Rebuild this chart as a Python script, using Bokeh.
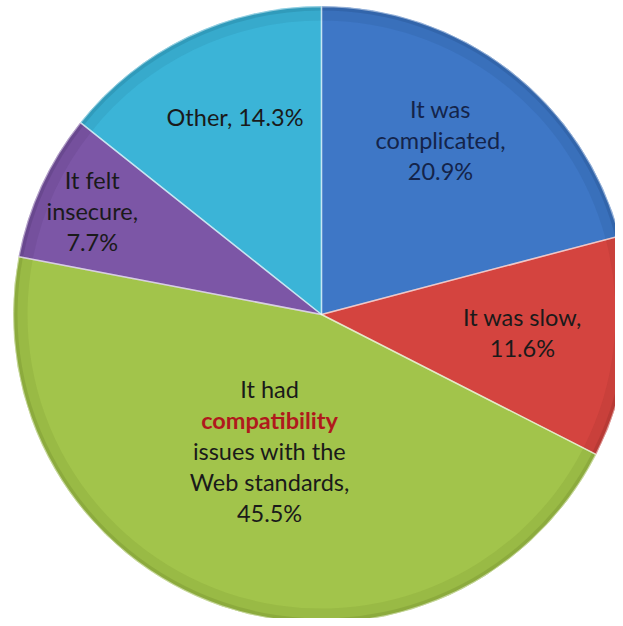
import math
from bokeh.plotting import figure
from bokeh.models import Range1d, ColumnDataSource
from bokeh.core.properties import value
from bokeh.embed import file_html
from bokeh.resources import INLINE

# ---- data ----
categories = ["It was complicated", "It was slow", "It had compatibility issues with the Web standards",
              "It felt insecure", "Other"]
percents = [20.9, 11.6, 45.5, 7.7, 14.3]
label_lines = [
    ["It was", "complicated,", "20.9%"],
    ["It was slow,", "11.6%"],
    ["It had", "compatibility", "issues with the", "Web standards,", "45.5%"],
    ["It felt", "insecure,", "7.7%"],
    ["Other, 14.3%"],
]
colors = ["#3e77c6", "#d4443f", "#a2c44b", "#7c56a6", "#3bb4d7"]
rim_colors = ["#2c5a9c", "#a83330", "#7f9c35", "#5e3f82", "#2a8caa"]
# label placement: radial fraction and angular nudge (degrees) from the slice's mid angle
label_frac = [0.687, 0.655, 0.473, 0.817, 0.70]
label_nudge = [3.4, 1.0, -2.0, 0.3, -2.1]
emph_line = (2, 1)  # (slice, line) drawn bold red

# ---- geometry ----
W, H = 615, 618
cx, cy = 321, -314
R = 308
total = sum(percents)
starts, ends, mids = [], [], []
cum = 0.0
for v in percents:
    a0 = math.pi / 2 - 2 * math.pi * (cum + v) / total
    a1 = math.pi / 2 - 2 * math.pi * cum / total
    starts.append(a0)
    ends.append(a1)
    mids.append((a0 + a1) / 2)
    cum += v

p = figure(width=W, height=H, output_backend="svg", toolbar_location=None,
           x_range=Range1d(0, W), y_range=Range1d(-H, 0),
           min_border=0, outline_line_color=None)
p.axis.visible = False
p.grid.visible = False
p.background_fill_color = "white"
p.border_fill_color = "white"

src = ColumnDataSource(dict(x=[cx] * 5, y=[cy] * 5, s=starts, e=ends, c=colors, rc=rim_colors, cat=categories))
p.wedge(x="x", y="y", radius=R, start_angle="s", end_angle="e", fill_color="c",
        line_color="c", line_width=1, source=src)
# darker rim to hint at the bevel shading
p.annular_wedge(x="x", y="y", inner_radius=R - 14, outer_radius=R, start_angle="s", end_angle="e",
                fill_color="rc", fill_alpha=0.25, line_color=None, source=src)
p.annular_wedge(x="x", y="y", inner_radius=R - 4, outer_radius=R, start_angle="s", end_angle="e",
                fill_color="rc", fill_alpha=0.5, line_color=None, source=src)
# light separators
p.wedge(x="x", y="y", radius=R, start_angle="s", end_angle="e", fill_color=None,
        line_color="white", line_alpha=0.45, line_width=1.5, source=src)

# ---- labels ----
line_h = 31
tx, ty, tt, tc, tw = [], [], [], [], []
for i, lines in enumerate(label_lines):
    ang = mids[i] + math.radians(label_nudge[i])
    lx = cx + label_frac[i] * R * math.cos(ang)
    ly = cy + label_frac[i] * R * math.sin(ang)
    n = len(lines)
    for j, t in enumerate(lines):
        tx.append(lx)
        ty.append(ly + ((n - 1) / 2 - j) * line_h)
        tt.append(t)
        if (i, j) == emph_line:
            tc.append("#b0191c")
            tw.append("bold")
        else:
            tc.append("#14244a" if i == 0 else "#1a1a1a")
            tw.append("normal")

lsrc = ColumnDataSource(dict(x=tx, y=ty, t=tt, c=tc, w=tw))
p.text(x="x", y="y", text="t", text_color="c", text_font_style="w", text_font=value("Lato"),
       text_font_size="23.5px", text_align="center", text_baseline="middle", source=lsrc)

open("out.html", "w").write(file_html(p, INLINE))
